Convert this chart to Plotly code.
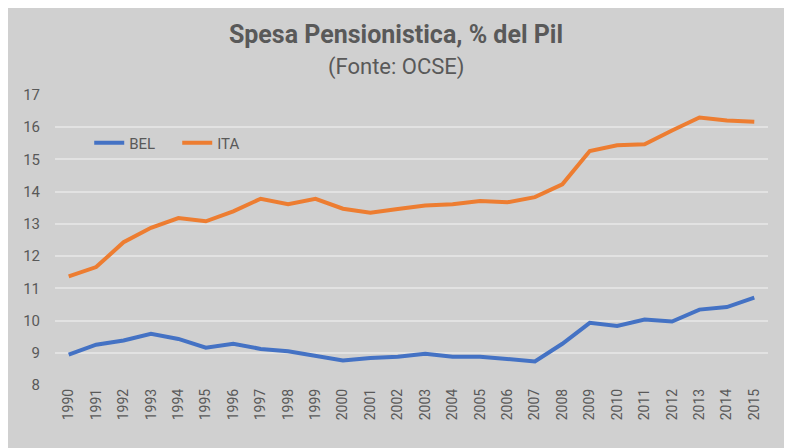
import plotly.graph_objects as go

years = list(range(1990, 2016))
bel = [8.94, 9.25, 9.38, 9.59, 9.43, 9.16, 9.28, 9.12, 9.05, 8.92,
       8.76, 8.84, 8.88, 8.97, 8.88, 8.88, 8.82, 8.73, 9.28, 9.93,
       9.83, 10.03, 9.97, 10.34, 10.42, 10.71]
ita = [11.37, 11.66, 12.43, 12.88, 13.18, 13.08, 13.39, 13.78, 13.61, 13.78,
       13.47, 13.35, 13.46, 13.57, 13.61, 13.71, 13.67, 13.83, 14.23, 15.26,
       15.44, 15.47, 15.90, 16.30, 16.21, 16.17]

font_main = "Roboto, sans-serif"
grey_txt = "#595959"

# page has an 8px body margin, so everything is laid out 8px up/left
off = 8
top, bottom, left, right = 95 - off, 385 - off, 55 - off, 768 - off
plot_h = bottom - top

fig = go.Figure()
fig.add_trace(go.Scatter(x=years, y=bel, mode="lines", name="BEL",
                         line=dict(color="#4472C4", width=4)))
fig.add_trace(go.Scatter(x=years, y=ita, mode="lines", name="ITA",
                         line=dict(color="#ED7D31", width=4)))

fig.update_layout(
    width=792, height=448,
    margin=dict(l=left, r=792 - right, t=top, b=448 - bottom, autoexpand=False),
    paper_bgcolor="#d0d0d0", plot_bgcolor="#d0d0d0",
    font=dict(family=font_main, color=grey_txt, size=14),
    title=dict(
        text="<b>Spesa Pensionistica, % del Pil</b>",
        x=(396 - off) / 792, xanchor="center", y=1 - (34 - off) / 448, yanchor="middle",
        font=dict(size=25, color=grey_txt, family=font_main),
    ),
    legend=dict(orientation="h", x=0.048, y=1 - (143 - off - top) / plot_h,
                xanchor="left", yanchor="middle",
                entrywidth=43, entrywidthmode="pixels",
                bgcolor="rgba(0,0,0,0)", font=dict(size=15, color=grey_txt)),
    showlegend=True,
)
fig.add_annotation(text="(Fonte: OCSE)", xref="paper", yref="paper",
                   x=(396 - off - left) / (right - left), y=1 + (top - (67 - off)) / plot_h,
                   xanchor="center", yanchor="middle",
                   showarrow=False, font=dict(size=22, color=grey_txt, family=font_main))
fig.update_xaxes(range=[1989.5, 2015.5], tickmode="array", tickvals=years,
                 ticktext=[str(y) for y in years], tickangle=-90, automargin=False,
                 showgrid=False, zeroline=False, showline=False,
                 tickfont=dict(size=14, color=grey_txt))
fig.update_yaxes(range=[8, 17], dtick=1, showgrid=True, gridcolor="#e2e2e2",
                 gridwidth=1.5, zeroline=False, showline=False, automargin=False,
                 tickfont=dict(size=15, color=grey_txt), ticklabelstandoff=14)

fig.write_html("out.html")
